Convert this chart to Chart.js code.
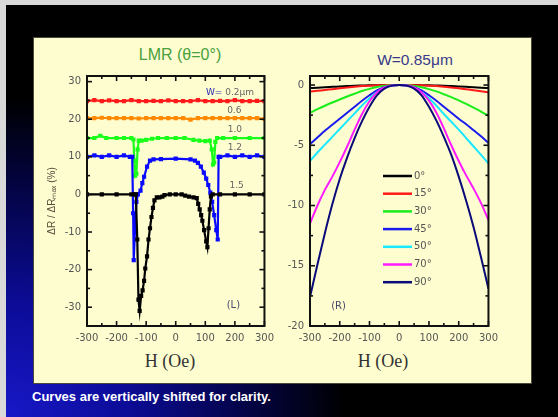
<!DOCTYPE html>
<html>
<head>
<meta charset="utf-8">
<script src="https://cdn.jsdelivr.net/npm/chart.js@4.4.1/dist/chart.umd.min.js"></script>
<style>
  html, body { margin: 0; padding: 0; }
  body { width: 558px; height: 417px; background: #d9d9d9; position: relative; overflow: hidden; font-family: "Liberation Sans", Arial, sans-serif; }
  #slide { position: absolute; left: 6px; top: 5px; width: 552px; height: 412px;
    background: radial-gradient(ellipse 340px 320px at 0% 100%, #1818c8 0%, #0c0c98 35%, #040448 70%, #000 100%); }
  #panel { position: absolute; left: 33px; top: 37px; width: 497px; height: 345px; background: #fdfdd0; border: 1px solid #4a4a3a; }
  canvas { position: absolute; }
  .txt { position: absolute; white-space: nowrap; text-align: center; line-height: 1.15; }
  #t1 { left: 100px; width: 160px; top: 46px; font-size: 16px; color: #4aa03c; }
  #t2 { left: 335px; width: 160px; top: 51px; font-size: 15.5px; color: #3a3a8a; }
  .hx { top: 351px; width: 120px; font-family: "Liberation Serif", "Times New Roman", serif; font-size: 18px; color: #333; }
  #cap { left: 32px; top: 390px; font-size: 13px; font-weight: bold; color: #fff; text-align: left; }
</style>
</head>
<body>
<div id="slide"></div>
<div id="panel"></div>
<div class="txt" id="t1">LMR (θ=0°)</div>
<div class="txt" id="t2">W=0.85μm</div>
<div class="txt hx" style="left:110px">H (Oe)</div>
<div class="txt hx" style="left:323px">H (Oe)</div>
<div class="txt" id="cap">Curves are vertically shifted for clarity.</div>
<canvas id="cL" width="244" height="306" style="left:36px; top:64px"></canvas>
<canvas id="cR" width="222" height="306" style="left:282px; top:64px"></canvas>
<script>
// ---------- Left panel (L): LMR, theta = 0 deg, curves shifted vertically ----------
const widthLabels = ['W= 0.2μm', '0.6', '1.0', '1.2', '1.5'];

const hW02 = [-300,-275,-250,-225,-200,-175,-150,-125,-100,-75,-50,-25,0,25,50,75,100,125,150,175,200,225,250,275,300];
const rW02 = [24.8,25.1,24.8,25.0,24.8,24.8,25.1,24.8,24.8,24.9,24.8,25.0,24.8,24.8,24.8,25.1,24.8,24.8,24.9,24.8,25.1,24.8,24.8,24.9,24.8];

const hW06 = [-300,-275,-250,-225,-200,-175,-150,-125,-100,-75,-50,-25,0,25,50,75,100,125,150,175,200,225,250,275,300];
const rW06 = [20.3,20.3,20.4,20.3,20.3,20.3,20.3,20.2,20.3,20.3,20.3,20.3,20.3,20.3,19.9,20.3,20.3,20.3,20.3,20.3,20.3,20.3,20.3,20.3,20.1];

const hW10 = [-300,-275,-255,-235,-200,-175,-150,-143,-140,-137,-133,-129,-125,-115,-100,-80,-60,-30,0,30,60,80,100,115,122,126,130,134,140,160,200,250,300];
const rW10 = [15,15,15.6,15,15,15,15,14.6,9,5,5.5,12,14.3,14.3,14.5,14.8,15,15,15,15,14.5,14.3,14.2,14.3,12,8,8.5,14,15,15,15,15,15];

const hW12 = [-300,-275,-250,-225,-200,-175,-155,-147,-144,-142,-138,-133,-128,-119,-113,-107,-97,-87,-75,-50,0,50,65,75,85,95,103,110,117,123,130,137,142,145,150,175,200,225,250,275,300];
const rW12 = [10,10.4,10,10.4,10,10.4,10,10,-5,-17.5,-10,-2,0,1,3,4.7,7.4,9,9.3,9.4,9.5,9.3,9,8.4,7.4,5.8,4.2,2.5,0.5,-2,-5.5,-9.5,-12,10,10,10.4,10,10.4,10,10.4,10];

const hW15 = [-300,-250,-200,-150,-140,-135,-130,-126,-122,-117,-112,-107,-103,-97,-92,-87,-82,-77,-72,-64,-55,-45,-38,-20,0,20,32,45,60,71,76,81,86,90,96,103,107,111,115,119,125,150,200,250,300];
const rW15 = [0,0,0,0,0,0,-12,-28,-31,-27,-25.5,-23,-19.7,-16.5,-12,-9,-6,-3.6,-1.6,-0.8,-0.8,-0.6,-0.2,0,0,0,-0.3,-0.6,-0.8,-1,-2.5,-4,-5.5,-7,-9.5,-12.5,-14,-9,-4,-0.5,0,0,0,0,0];

const xTicks = [-300,-200,-100,0,100,200,300];
const leftYTicks = [30,20,10,0,-10,-20,-30];

// ---------- Right panel (R): W = 0.85 um, angle dependence ----------
const angleLabels = ['0°','15°','30°','45°','50°','70°','90°'];
const hR = [-300,-275,-250,-225,-200,-175,-150,-125,-100,-75,-50,-25,0,25,50,75,100,125,150,175,200,225,250,275,300];
const a0  = [-0.25,-0.22,-0.18,-0.15,-0.12,-0.09,-0.06,-0.04,-0.02,-0.01,0,0,0,0,0,-0.01,-0.02,-0.04,-0.06,-0.09,-0.12,-0.15,-0.18,-0.22,-0.25];
const a15 = [-0.55,-0.48,-0.41,-0.34,-0.27,-0.2,-0.14,-0.09,-0.05,-0.02,-0.01,0,0,0,-0.01,-0.02,-0.05,-0.09,-0.14,-0.2,-0.27,-0.35,-0.43,-0.52,-0.6];
const a30 = [-2.3,-2.0,-1.72,-1.45,-1.2,-0.95,-0.72,-0.5,-0.32,-0.17,-0.07,-0.01,0,-0.01,-0.07,-0.18,-0.34,-0.53,-0.76,-1.0,-1.27,-1.56,-1.88,-2.2,-2.55];
const a45 = [-4.9,-4.35,-3.8,-3.3,-2.8,-2.3,-1.8,-1.3,-0.85,-0.45,-0.18,-0.04,0,-0.04,-0.18,-0.45,-0.85,-1.3,-1.8,-2.3,-2.8,-3.25,-3.75,-4.25,-4.8];
const a50 = [-6.3,-5.6,-4.95,-4.3,-3.65,-3.0,-2.35,-1.7,-1.1,-0.6,-0.24,-0.05,0,-0.05,-0.24,-0.6,-1.1,-1.72,-2.4,-3.05,-3.7,-4.4,-5.1,-5.8,-6.5];
const a70 = [-11.5,-10.0,-8.7,-7.6,-6.4,-5.1,-3.7,-2.4,-1.35,-0.62,-0.2,-0.03,0,-0.03,-0.2,-0.6,-1.3,-2.3,-3.6,-5.0,-6.3,-7.5,-8.6,-9.8,-11.2];
const a90 = [-17.6,-14.9,-12.3,-9.9,-7.8,-6.0,-4.4,-3.0,-1.8,-0.85,-0.3,-0.05,0,-0.05,-0.3,-0.85,-1.8,-2.95,-4.3,-5.8,-7.6,-9.6,-11.8,-14.3,-16.9];
const rightYTicks = [0,-5,-10,-15,-20];

// ---------- helpers ----------
const pts = (hs, vs) => hs.map((h, i) => ({ x: h, y: vs[i] }));
const FONT = '"DejaVu Sans", "Liberation Sans", Arial, sans-serif';

const frameTicks = {
  id: 'frameTicks',
  afterDatasetsDraw(chart, args, o) {
    const { ctx, chartArea: a, scales: { x, y } } = chart;
    ctx.save();
    ctx.strokeStyle = '#111';
    ctx.lineWidth = 1.6;
    const seg = (x1, y1, x2, y2) => { ctx.beginPath(); ctx.moveTo(x1, y1); ctx.lineTo(x2, y2); ctx.stroke(); };
    const xt = (vals, len) => vals.forEach(v => { const p = x.getPixelForValue(v); seg(p, a.bottom, p, a.bottom - len); seg(p, a.top, p, a.top + len); });
    const yt = (vals, len) => vals.forEach(v => { const p = y.getPixelForValue(v); seg(a.left, p, a.left + len, p); seg(a.right, p, a.right - len, p); });
    xt(o.xMajor, 5); xt(o.xMinor, 3);
    yt(o.yMajor, 5); yt(o.yMinor, 3);
    ctx.lineWidth = 2;
    ctx.strokeRect(a.left, a.top, a.right - a.left, a.bottom - a.top);
    ctx.restore();
  }
};

const notes = {
  id: 'notes',
  afterDraw(chart, args, o) {
    const { ctx, scales: { x, y } } = chart;
    ctx.save();
    ctx.textBaseline = 'middle';
    (o.items || []).forEach(it => {
      ctx.font = it.font || ('9px ' + FONT);
      ctx.textAlign = it.align || 'center';
      const px = x.getPixelForValue(it.h), py = y.getPixelForValue(it.v);
      if (it.parts) {
        let cx = px;
        ctx.textAlign = 'left';
        it.parts.forEach(p => { ctx.fillStyle = p.color; ctx.fillText(p.text, cx, py); cx += ctx.measureText(p.text).width; });
      } else {
        ctx.fillStyle = it.color || '#555';
        ctx.fillText(it.text, px, py);
      }
    });
    ctx.restore();
  }
};

const angleLegend = {
  id: 'angleLegend',
  afterDraw(chart, args, o) {
    const { ctx, chartArea: a } = chart;
    ctx.save();
    ctx.font = '10px ' + FONT;
    ctx.textBaseline = 'middle';
    ctx.textAlign = 'left';
    const x0 = a.left + 73, y0 = a.top + 100, step = 17.7;
    angleLabels.forEach((lab, i) => {
      const ds = chart.data.datasets.find(d => d.label === lab);
      const yy = y0 + i * step;
      ctx.strokeStyle = ds.borderColor; ctx.lineWidth = 2.5;
      ctx.beginPath(); ctx.moveTo(x0, yy); ctx.lineTo(x0 + 29, yy); ctx.stroke();
      ctx.fillStyle = '#555';
      ctx.fillText(lab, x0 + 31, yy);
    });
    ctx.restore();
  }
};

const tickFont = { family: FONT, size: 10 };

function lineDs(label, data, color, order, extra) {
  return Object.assign({ label, data, borderColor: color, backgroundColor: color, borderWidth: 2, pointRadius: 0, showLine: true, order }, extra || {});
}

const sq = { pointStyle: 'rect', pointRadius: 1.4, borderWidth: 2.2 };

// ---------- Left chart ----------
new Chart(document.getElementById('cL'), {
  type: 'scatter',
  data: {
    datasets: [
      lineDs(widthLabels[0], pts(hW02, rW02), '#ff1a1a', 5, sq),
      lineDs(widthLabels[1], pts(hW06, rW06), '#ff8a00', 4, sq),
      lineDs(widthLabels[2], pts(hW10, rW10), '#1aff1a', 3, sq),
      lineDs(widthLabels[3], pts(hW12, rW12), '#0a0aff', 2, sq),
      lineDs(widthLabels[4], pts(hW15, rW15), '#000000', 1, sq)
    ]
  },
  options: {
    responsive: false, animation: false, devicePixelRatio: 1,
    layout: { padding: { left: 0, top: 9, right: 7, bottom: 0 } },
    plugins: {
      legend: { display: false }, tooltip: { enabled: false },
      frameTicks: { xMajor: xTicks, xMinor: [-250,-150,-50,50,150,250], yMajor: leftYTicks, yMinor: [25,15,5,-5,-15,-25,-35] },
      notes: { items: [
        { parts: [{ text: 'W= ', color: '#2a2ab0' }, { text: '0.2μm', color: '#666' }], h: 102, v: 27.2 },
        { text: widthLabels[1], h: 198, v: 22.4, color: '#666' },
        { text: widthLabels[2], h: 200, v: 17.1, color: '#666' },
        { text: widthLabels[3], h: 200, v: 12.4, color: '#666' },
        { text: widthLabels[4], h: 206, v: 2.4, color: '#666' },
        { text: '(L)', h: 195, v: -29.5, color: '#4a4a6a', font: '10px ' + FONT }
      ] }
    },
    scales: {
      x: {
        type: 'linear', min: -300, max: 300,
        afterBuildTicks: s => { s.ticks = xTicks.map(v => ({ value: v })); },
        afterFit: s => { s.height = 44; },
        grid: { display: false, drawTicks: false }, border: { display: false },
        ticks: { font: tickFont, color: '#555', padding: 6, maxRotation: 0, callback: v => String(v) }
      },
      y: {
        type: 'linear', min: -35, max: 31.5,
        afterBuildTicks: s => { s.ticks = leftYTicks.map(v => ({ value: v })); },
        afterFit: s => { s.width = 51; },
        grid: { display: false, drawTicks: false }, border: { display: false },
        ticks: { font: tickFont, color: '#555', padding: 6, callback: v => String(v) },
        title: { display: true, text: 'ΔR / ΔRₘₐₓ (%)', color: '#5a4a3a', font: { family: '"Liberation Sans", Arial, sans-serif', size: 10 }, padding: { top: 10, bottom: 0 } }
      }
    }
  },
  plugins: [frameTicks, notes]
});

// ---------- Right chart ----------
new Chart(document.getElementById('cR'), {
  type: 'scatter',
  data: {
    datasets: [
      lineDs(angleLabels[0], pts(hR, a0), '#000000', 7),
      lineDs(angleLabels[1], pts(hR, a15), '#ff1a1a', 6),
      lineDs(angleLabels[2], pts(hR, a30), '#1aee1a', 5),
      lineDs(angleLabels[3], pts(hR, a45), '#1a1aee', 4),
      lineDs(angleLabels[4], pts(hR, a50), '#1ae8ff', 3),
      lineDs(angleLabels[5], pts(hR, a70), '#ff1aff', 2),
      lineDs(angleLabels[6], pts(hR, a90), '#0a0a78', 1)
    ].map(d => Object.assign(d, { cubicInterpolationMode: 'monotone' }))
  },
  options: {
    responsive: false, animation: false, devicePixelRatio: 1,
    layout: { padding: { left: 0, top: 11, right: 7, bottom: 0 } },
    plugins: {
      legend: { display: false }, tooltip: { enabled: false },
      frameTicks: { xMajor: xTicks, xMinor: [-250,-150,-50,50,150,250], yMajor: rightYTicks, yMinor: [-2.5,-7.5,-12.5,-17.5] },
      notes: { items: [
        { text: '(R)', h: -204, v: -18.35, color: '#4a4a6a', font: '10px ' + FONT }
      ] }
    },
    scales: {
      x: {
        type: 'linear', min: -300, max: 300,
        afterBuildTicks: s => { s.ticks = xTicks.map(v => ({ value: v })); },
        afterFit: s => { s.height = 44; },
        grid: { display: false, drawTicks: false }, border: { display: false },
        ticks: { font: tickFont, color: '#555', padding: 6, maxRotation: 0, callback: v => String(v) }
      },
      y: {
        type: 'linear', min: -20, max: 0.75,
        afterBuildTicks: s => { s.ticks = rightYTicks.map(v => ({ value: v })); },
        afterFit: s => { s.width = 28; },
        grid: { display: false, drawTicks: false }, border: { display: false },
        ticks: { font: tickFont, color: '#555', padding: 6, callback: v => String(v) }
      }
    }
  },
  plugins: [frameTicks, notes, angleLegend]
});
</script>
</body>
</html>
